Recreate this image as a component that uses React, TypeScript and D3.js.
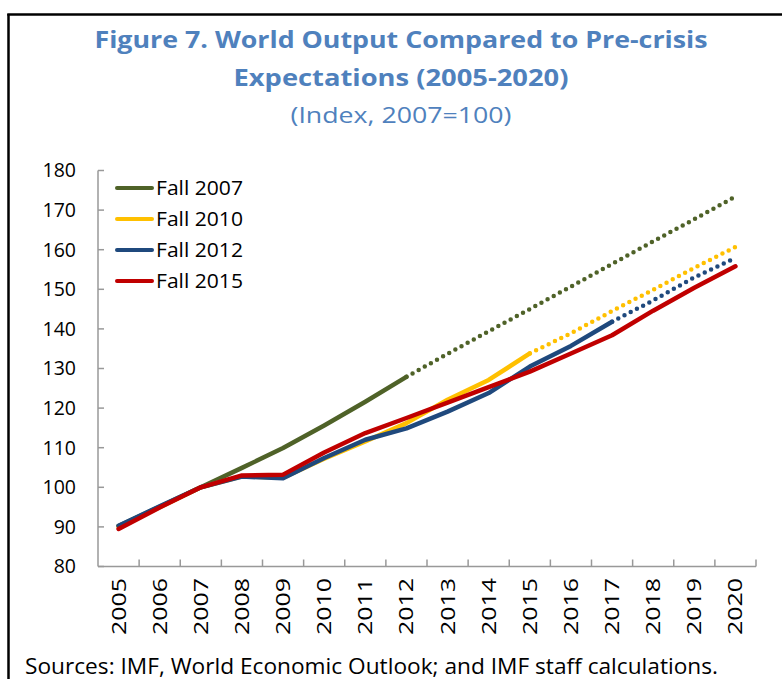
import React from "react";
import * as d3 from "d3";

const years = ["2005","2006","2007","2008","2009","2010","2011","2012","2013","2014","2015","2016","2017","2018","2019","2020"];
const fall2007 = [90.2, 95.1, 100, 104.9, 109.9, 115.6, 121.6, 127.9, 133.7, 139.4, 145.0, 150.7, 156.4, 162.1, 167.7, 173.4];
const fall2010 = [90.1, 95.0, 100, 102.8, 102.4, 107.2, 111.6, 116.2, 122.1, 127.1, 133.8, 138.9, 144.5, 149.9, 155.4, 160.7];
const fall2012 = [90.3, 95.2, 100, 102.7, 102.3, 107.4, 112.0, 114.9, 119.1, 123.8, 130.5, 135.7, 141.8, 147.2, 153.0, 157.9];
const fall2015 = [89.5, 94.9, 100, 103.0, 103.2, 108.8, 113.7, 117.5, 121.4, 125.3, 129.2, 133.8, 138.4, 144.6, 150.4, 155.8];
const seriesNames = ["Fall 2007", "Fall 2010", "Fall 2012", "Fall 2015"];
const lastActualYear = ["2012", "2015", "2017", "2020"];
const yTicks = [80, 90, 100, 110, 120, 130, 140, 150, 160, 170, 180];

const colors = ["#4F6228", "#FFC000", "#1F497D", "#C00000"];
const FONT = "'Open Sans', sans-serif";
const TITLE = "#4F81BD";

export default function App() {
  const W = 782, H = 679;
  const left = 98, right = 756, top = 170.5, bottom = 566.5;
  const x = d3.scaleBand().domain(years).range([left, right]);
  const y = d3.scaleLinear().domain([80, 180]).range([bottom, top]);
  const cx = (yr: string) => (x(yr) as number) + x.bandwidth() / 2;
  const line = d3.line<[string, number]>().x(d => cx(d[0])).y(d => y(d[1]));
  const all = [fall2007, fall2010, fall2012, fall2015];

  return (
    <svg width={W} height={H} style={{ position: "absolute", left: 0, top: 0, background: "#fff" }}>
      <rect width={W} height={H} fill="#fff" />
      <line x1={8.5} y1={14} x2={8.5} y2={H} stroke="#000" strokeWidth={2.5} />
      <line x1={7.25} y1={14.5} x2={W} y2={14.5} stroke="#000" strokeWidth={2.5} />

      <text x={401} y={48} textAnchor="middle" fontFamily={FONT} fontWeight="bold" fontSize={24} fill={TITLE} textLength={613} lengthAdjust="spacingAndGlyphs">Figure 7. World Output Compared to Pre-crisis</text>
      <text x={401} y={86} textAnchor="middle" fontFamily={FONT} fontWeight="bold" fontSize={24} fill={TITLE} textLength={335} lengthAdjust="spacingAndGlyphs">Expectations (2005-2020)</text>
      <text x={401} y={123} textAnchor="middle" fontFamily={FONT} fontSize={21} fill={TITLE} textLength={221} lengthAdjust="spacingAndGlyphs">(Index, 2007=100)</text>

      {/* y axis */}
      <line x1={left} y1={top} x2={left} y2={bottom} stroke="#999" strokeWidth={1.5} />
      {yTicks.map(t => (
        <g key={t}>
          <line x1={left} x2={left + 6} y1={y(t)} y2={y(t)} stroke="#999" strokeWidth={1.5} />
          <text x={76} y={y(t)} dy="0.35em" textAnchor="end" fontFamily={FONT} fontSize={19.5} fill="#000">{t}</text>
        </g>
      ))}
      {/* x axis */}
      <line x1={left} y1={bottom} x2={right} y2={bottom} stroke="#999" strokeWidth={1.5} />
      {years.map(yr => (
        <line key={"t" + yr} x1={(x(yr) as number) + x.bandwidth()} x2={(x(yr) as number) + x.bandwidth()} y1={bottom} y2={bottom - 7} stroke="#999" strokeWidth={1.5} />
      ))}
      {years.map(yr => (
        <text key={"l" + yr} transform={`translate(${cx(yr)},578) rotate(-90)`} dy="0.35em" textAnchor="end" fontFamily={FONT} fontSize={20} fill="#000" textLength={57} lengthAdjust="spacingAndGlyphs">{yr}</text>
      ))}

      {all.map((vals, si) => {
        const pts: [string, number][] = years.map((yr, i) => [yr, vals[i]]);
        const k = years.indexOf(lastActualYear[si]);
        const solid = pts.slice(0, k + 1);
        const dotted = pts.slice(k);
        return (
          <g key={si}>
            <path d={line(solid) || ""} fill="none" stroke={colors[si]} strokeWidth={4.5} strokeLinejoin="round" strokeLinecap="round" />
            {dotted.length > 1 && (
              <path d={line(dotted) || ""} fill="none" stroke={colors[si]} strokeWidth={4.5} strokeLinecap="round" strokeDasharray="0 7" />
            )}
          </g>
        );
      })}

      {seriesNames.map((n, i) => {
        const ly = 188 + i * 31;
        return (
          <g key={n}>
            <line x1={117} x2={152} y1={ly} y2={ly} stroke={colors[i]} strokeWidth={4} strokeLinecap="round" />
            <text x={156} y={ly} dy="0.35em" fontFamily={FONT} fontSize={20} fill="#000" textLength={87} lengthAdjust="spacingAndGlyphs">{n}</text>
          </g>
        );
      })}

      <text x={25} y={674} fontFamily={FONT} fontSize={21} fill="#000" textLength={693} lengthAdjust="spacingAndGlyphs">Sources: IMF, World Economic Outlook; and IMF staff calculations.</text>
    </svg>
  );
}
